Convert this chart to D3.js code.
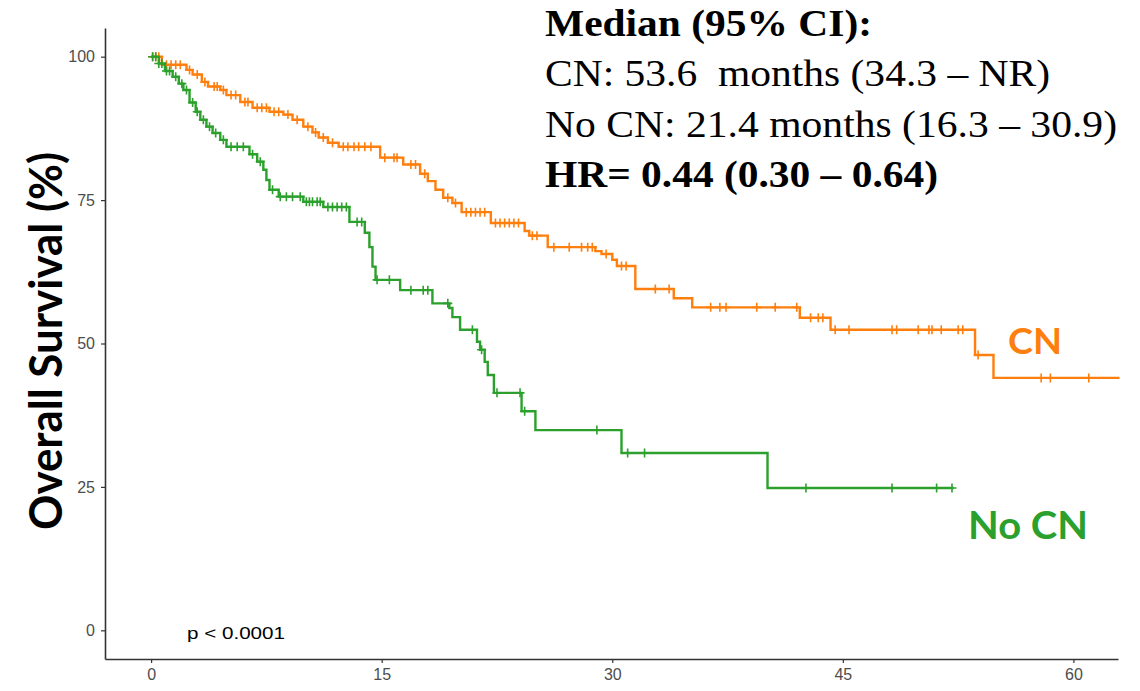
<!DOCTYPE html>
<html>
<head>
<meta charset="utf-8">
<script src="https://cdn.jsdelivr.net/npm/d3@7"></script>
<style>
  html, body { margin: 0; padding: 0; background: #fff; }
  svg { display: block; }
  text { white-space: pre; }
</style>
</head>
<body>
<div id="chart"></div>
<script>
// Kaplan–Meier overall survival, cytoreductive nephrectomy (CN) vs no CN

// Step times (months) and survival (%) after each step
const cnTime = [0, 0.7, 2.3, 2.7, 3.3, 3.7, 4.5, 4.9, 5.8, 6.6, 7.7, 8.6, 9.2, 9.9, 10.5, 10.9, 11.5, 12.2,
  14.9, 16.4, 17.5, 18.0, 18.5, 19.0, 19.6, 20.2, 22.1, 24.3, 24.6, 25.8, 28.9, 29.3, 30.0, 30.3,
  31.5, 34.0, 35.2, 42.2, 44.2, 53.6, 54.8];
const cnSurv = [100, 98.6, 97.7, 96.9, 95.6, 94.8, 94.2, 93.3, 92.1, 91.1, 90.4, 89.9, 89.0, 87.8, 86.8, 85.9, 85.0, 84.3,
  82.4, 81.2, 79.6, 78.3, 76.8, 75.4, 74.5, 72.9, 71.0, 69.6, 68.8, 66.8, 66.1, 65.6, 64.6, 63.5,
  59.5, 57.9, 56.3, 54.5, 52.4, 48.0, 44.0];
const cnEnd = 63.0;
const cnCensor = [0.1, 0.3, 0.5, 1.0, 1.3, 1.6, 1.9, 2.5, 3.0, 3.5, 4.1, 4.3, 4.7, 5.2, 5.5, 6.1, 6.3, 6.9, 7.2, 7.5,
  8.0, 8.3, 8.9, 9.5, 10.2, 10.7, 11.2, 11.8, 12.5, 12.8, 13.2, 13.5, 13.9, 14.3, 15.2, 15.8, 16.0, 16.9,
  17.2, 17.8, 19.3, 19.8, 20.5, 20.8, 21.1, 21.4, 21.7, 22.4, 22.7, 23.0, 23.3, 23.6, 23.9, 24.8, 25.1,
  26.2, 27.2, 28.0, 28.4, 28.7, 29.6, 30.6, 30.9, 32.8, 33.7, 36.4, 37.0, 37.4, 39.4, 40.6, 42.0, 42.9,
  43.4, 43.7, 44.5, 45.4, 48.2, 48.5, 49.9, 50.6, 50.8, 51.4, 52.5, 52.8, 53.8, 57.9, 58.5, 61.0];

const nocnTime = [0, 0.5, 0.9, 1.4, 1.8, 2.1, 2.5, 2.9, 3.2, 3.6, 4.0, 4.5, 4.9, 6.4, 6.9, 7.3, 7.5, 7.7, 8.3,
  9.9, 11.2, 12.9, 13.9, 14.2, 14.4, 14.6, 16.2, 18.3, 19.4, 19.6, 20.1, 21.2, 21.4, 21.7, 21.9, 22.3,
  24.1, 25.0, 30.6, 40.1];
const nocnSurv = [100, 98.8, 97.5, 96.5, 95.3, 94.2, 92.0, 90.4, 89.0, 87.8, 86.7, 85.5, 84.3, 83.0, 81.7, 80.3, 78.5, 76.8, 75.6,
  74.7, 73.8, 71.2, 69.3, 66.8, 63.4, 61.1, 59.3, 57.0, 56.2, 54.6, 52.4, 50.3, 48.9, 46.8, 44.5, 41.4,
  38.2, 34.9, 30.9, 24.8];
const nocnEnd = 52.2;
const nocnCensor = [0.1, 0.3, 0.5, 0.7, 1.0, 1.2, 1.6, 2.0, 2.3, 2.7, 3.0, 3.4, 3.8, 4.2, 4.7, 5.2, 5.6, 6.0, 6.6,
  7.1, 7.9, 8.4, 8.8, 9.2, 9.7, 10.1, 10.3, 10.5, 10.8, 11.0, 11.5, 11.8, 12.1, 12.4, 12.7, 13.4, 13.7,
  14.7, 15.5, 16.9, 17.7, 18.0, 19.3, 20.9, 21.5, 22.5, 24.0, 24.3, 29.0, 31.0, 32.1, 42.6, 48.2, 51.1, 52.1];

const xTicks = [0, 15, 30, 45, 60];
const yTicks = [0, 25, 50, 75, 100];

const summaryLines = [
  "Median (95% CI):",
  "CN: 53.6  months (34.3 \u2013 NR)",
  "No CN: 21.4 months (16.3 \u2013 30.9)",
  "HR= 0.44 (0.30 \u2013 0.64)"
];

const W = 1140, H = 691;
const orange = "#ff7f0e", green = "#2ca02c";

const svg = d3.select("#chart").append("svg").attr("width", W).attr("height", H);

const x = d3.scaleLinear().domain([-3.0, 62.9]).range([105, 1118]);
const y = d3.scaleLinear().domain([-5, 105]).range([659, 28]);

// Axes
const axisColor = "#333";
const xAxis = svg.append("g").attr("transform", `translate(0,${y(-5)})`)
  .call(d3.axisBottom(x).tickValues(xTicks).tickSizeInner(4).tickSizeOuter(0).tickPadding(6).tickFormat(d3.format("d")));
const yAxis = svg.append("g").attr("transform", `translate(${x(-3.0)},0)`)
  .call(d3.axisLeft(y).tickValues(yTicks).tickSizeInner(4).tickSizeOuter(0).tickPadding(6).tickFormat(d3.format("d")));
[xAxis, yAxis].forEach(g => {
  g.select(".domain").attr("stroke", axisColor).attr("stroke-width", 1.6);
  g.selectAll(".tick line").attr("stroke", axisColor).attr("stroke-width", 1.2);
  g.selectAll(".tick text").attr("fill", "#4d4d4d")
    .style("font-family", "'Liberation Sans', Arial, sans-serif").style("font-size", "16px");
});

// Survival curves
function series(times, surv, end) {
  const pts = times.map((t, i) => [t, surv[i]]);
  pts.push([end, surv[surv.length - 1]]);
  return pts;
}
function survAt(times, surv, t) {
  let s = surv[0];
  for (let i = 0; i < times.length; i++) { if (times[i] <= t) s = surv[i]; }
  return s;
}
const stepLine = d3.line().x(d => x(d[0])).y(d => y(d[1])).curve(d3.curveStepAfter);

const groups = [
  { time: cnTime, surv: cnSurv, end: cnEnd, censor: cnCensor, color: orange },
  { time: nocnTime, surv: nocnSurv, end: nocnEnd, censor: nocnCensor, color: green }
];

groups.forEach(g => {
  svg.append("path").datum(series(g.time, g.surv, g.end))
    .attr("d", stepLine).attr("fill", "none")
    .attr("stroke", g.color).attr("stroke-width", 2.4);
  // censoring ticks drawn as "+" on the curve
  const s = 4.5;
  svg.append("g").selectAll("path").data(g.censor).join("path")
    .attr("d", t => {
      const cx = x(t), cy = y(survAt(g.time, g.surv, t));
      return `M${cx - s},${cy}H${cx + s}M${cx},${cy - s}V${cy + s}`;
    })
    .attr("stroke", g.color).attr("stroke-width", 1.6).attr("fill", "none");
});

// Y axis title
svg.append("text")
  .attr("transform", `translate(62,341) rotate(-90)`)
  .attr("text-anchor", "middle")
  .attr("textLength", 378).attr("lengthAdjust", "spacingAndGlyphs")
  .style("font-family", "Lato, 'Open Sans', sans-serif").style("font-weight", 700)
  .style("font-size", "45px").attr("fill", "#000")
  .text("Overall Survival (%)");

// Group labels
svg.append("text").attr("x", 1008).attr("y", 354)
  .attr("textLength", 54).attr("lengthAdjust", "spacingAndGlyphs")
  .style("font-family", "Lato, sans-serif").style("font-weight", 700).style("font-size", "37px")
  .attr("fill", orange).text("CN");
svg.append("text").attr("x", 968).attr("y", 539)
  .attr("textLength", 120).attr("lengthAdjust", "spacingAndGlyphs")
  .style("font-family", "Lato, sans-serif").style("font-weight", 700).style("font-size", "38px")
  .attr("fill", green).text("No CN");

// p-value
svg.append("text").attr("x", 187).attr("y", 639)
  .attr("textLength", 98).attr("lengthAdjust", "spacingAndGlyphs")
  .style("font-family", "'Liberation Sans', Arial, sans-serif").style("font-size", "17px")
  .attr("fill", "#000").text("p < 0.0001");

// Median / HR summary
const lineBase = [36, 86, 137, 187];
const lineLen = [327, 505, 572, 393];
const lineBold = [true, false, false, true];
svg.append("g").selectAll("text").data(summaryLines).join("text")
  .attr("x", 545).attr("y", (d, i) => lineBase[i])
  .attr("textLength", (d, i) => lineLen[i]).attr("lengthAdjust", "spacingAndGlyphs")
  .style("font-family", "'Liberation Serif', 'Times New Roman', serif")
  .style("font-weight", (d, i) => lineBold[i] ? 700 : 400)
  .style("font-size", "37px").attr("fill", "#000")
  .text(d => d);
</script>
</body>
</html>
